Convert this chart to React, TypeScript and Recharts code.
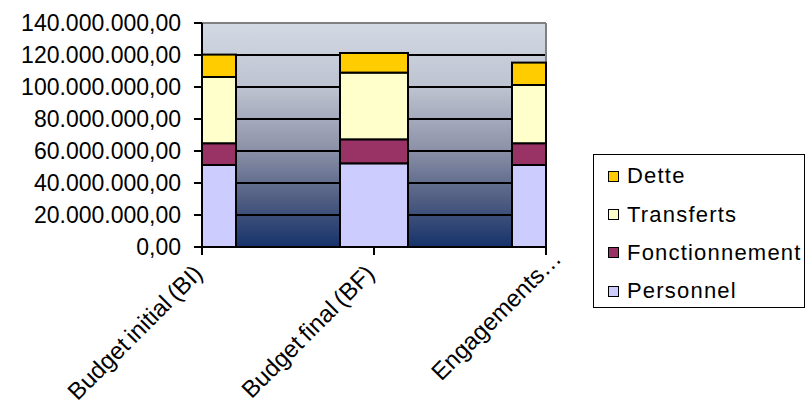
import React from 'react';
import { BarChart, Bar, XAxis, YAxis, CartesianGrid, Legend } from 'recharts';

const categories = ['Budget initial (BI)', 'Budget final (BF)', 'Engagements…'];
const personnel = [51250000, 52300000, 51250000];
const fonctionnement = [13600000, 15000000, 13600000];
const transferts = [41400000, 41700000, 36400000];
const dette = [14000000, 12250000, 14000000];
const yTicks = [0, 20000000, 40000000, 60000000, 80000000, 100000000, 120000000, 140000000];

const seriesKeys = ['personnel', 'fonctionnement', 'transferts', 'dette'];
const seriesNames = ['Personnel', 'Fonctionnement', 'Transferts', 'Dette'];
const seriesColors = ['#ccccff', '#993366', '#ffffcc', '#ffcc00'];

const data = categories.map((name, i) => ({
  name,
  personnel: personnel[i],
  fonctionnement: fonctionnement[i],
  transferts: transferts[i],
  dette: dette[i],
}));

const FONT = '"Liberation Sans", Arial, sans-serif';

// layout constants (plot area bounds)
const CHART_W = 808;
const CHART_H = 404;
const MARGIN = { top: 23, right: 262, left: 0, bottom: 0 };
const Y_AXIS_W = 202;
const PLOT_LEFT = MARGIN.left + Y_AXIS_W;
const PLOT_RIGHT = CHART_W - MARGIN.right;

const fmt = (v: number) =>
  Math.round(v).toString().replace(/\B(?=(\d{3})+(?!\d))/g, '.') + ',00';

const XTick = (props: any) => {
  const { x, y, payload, index, visibleTicksCount } = props;
  // truncated last label sits further along its direction
  const along = index === (visibleTicksCount ?? categories.length) - 1 ? 21 : 0;
  const ax = x + 2 + along * 0.7071;
  const ay = y + 18 - along * 0.7071;
  return (
    <text
      x={ax}
      y={ay}
      transform={`rotate(-45, ${ax}, ${ay})`}
      textAnchor="end"
      fontSize={24}
      fontFamily={FONT}
      wordSpacing={-2}
      fill="#000"
    >
      {payload.value}
    </text>
  );
};

// bar segment clipped horizontally to the plot area
const ClippedBar = (props: any) => {
  const { x, y, width, height, fill } = props;
  if (width == null || height == null) return null;
  const l = Math.max(x, PLOT_LEFT);
  const r = Math.min(x + width, PLOT_RIGHT);
  if (r <= l) return null;
  return <rect x={l} y={y} width={r - l} height={height} fill={fill} stroke="#000" strokeWidth={2} />;
};

const renderLegend = () => {
  const idx = seriesNames.map((_, i) => i).reverse();
  return (
    <div
      style={{
        boxSizing: 'border-box',
        width: '100%',
        height: '100%',
        border: '1.5px solid #000',
        background: '#fff',
        paddingTop: 2,
        fontFamily: FONT,
      }}
    >
      {idx.map((i) => (
        <div
          key={seriesNames[i]}
          style={{
            height: 38.4,
            display: 'flex',
            alignItems: 'center',
            paddingLeft: 14,
          }}
        >
          <span
            style={{
              display: 'inline-block',
              width: 9,
              height: 9,
              border: '1px solid #000',
              background: seriesColors[i],
              marginRight: 8,
            }}
          />
          <span style={{ fontSize: 22, letterSpacing: 1.2, color: '#000', lineHeight: '24px' }}>
            {seriesNames[i]}
          </span>
        </div>
      ))}
    </div>
  );
};

export default function App() {
  return (
    <div style={{ position: 'absolute', left: 0, top: 0, width: CHART_W, height: CHART_H, background: '#fff' }}>
      <svg width={0} height={0} style={{ position: 'absolute' }}>
        <defs>
          <linearGradient id="plotBg" x1="0" y1="0" x2="0" y2="1">
            <stop offset="0%" stopColor="#d3dae4" />
            <stop offset="30%" stopColor="#bcc1cf" />
            <stop offset="55%" stopColor="#8f94aa" />
            <stop offset="80%" stopColor="#4d5b80" />
            <stop offset="100%" stopColor="#16336a" />
          </linearGradient>
        </defs>
      </svg>
      <BarChart width={CHART_W} height={CHART_H} data={data} margin={MARGIN}>
        <CartesianGrid
          vertical={false}
          stroke="#000"
          strokeWidth={2}
          fill="url(#plotBg)"
          fillOpacity={1}
        />
        <CartesianGrid
          stroke="#808080"
          strokeWidth={2}
          horizontalCoordinatesGenerator={(p: any) => [p.offset.top]}
          verticalCoordinatesGenerator={(p: any) => [p.offset.left + p.offset.width]}
        />
        <XAxis
          dataKey="name"
          scale="point"
          padding={{ left: 0, right: 0 }}
          interval={0}
          height={157}
          tickSize={8}
          axisLine={{ stroke: '#000', strokeWidth: 2 }}
          tickLine={{ stroke: '#000', strokeWidth: 2 }}
          tick={<XTick />}
        />
        <YAxis
          width={Y_AXIS_W}
          domain={[0, 140000000]}
          ticks={yTicks}
          interval={0}
          tickFormatter={fmt}
          tickSize={8}
          tickMargin={13}
          axisLine={{ stroke: '#000', strokeWidth: 2 }}
          tickLine={{ stroke: '#000', strokeWidth: 2 }}
          tick={{ fontSize: 23, fontFamily: FONT, fill: '#000' }}
        />
        {seriesKeys.map((k, i) => (
          <Bar
            key={k}
            dataKey={k}
            name={seriesNames[i]}
            stackId="a"
            fill={seriesColors[i]}
            barSize={68}
            shape={<ClippedBar />}
            isAnimationActive={false}
          />
        ))}
        <Legend
          layout="horizontal"
          align="center"
          verticalAlign="middle"
          content={renderLegend}
          wrapperStyle={{ position: 'absolute', left: 593, top: 154, width: 212, height: 154 }}
        />
      </BarChart>
    </div>
  );
}
